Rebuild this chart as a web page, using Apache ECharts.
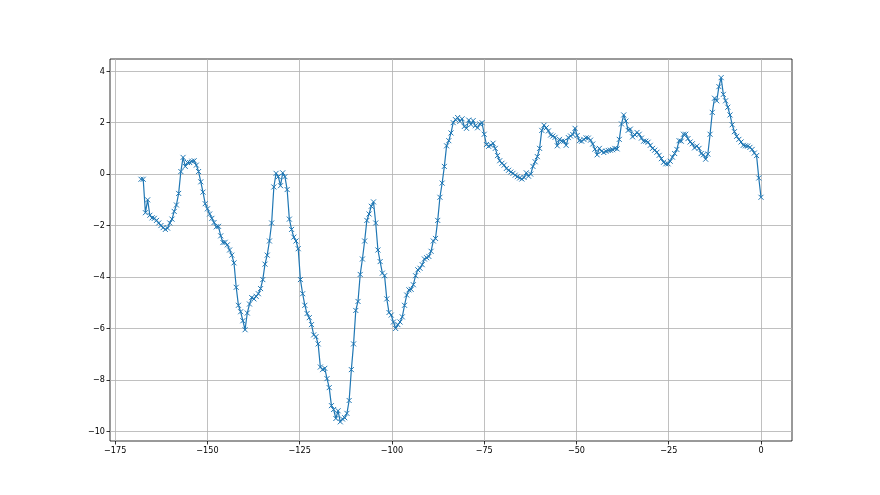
<!DOCTYPE html>
<html><head><meta charset="utf-8">
<script src="https://cdn.jsdelivr.net/npm/echarts@6/dist/echarts.min.js"></script>
<style>html,body{margin:0;padding:0;background:#fff}#c{width:880px;height:495px}</style>
</head><body><div id="c"></div>
<script>
const xStart = -168, xStep = 0.6;
const yValues = [
-0.2,-0.2,-1.5,-1.0,-1.6,-1.7,-1.72,-1.8,-1.9,-2.0,
-2.08,-2.15,-2.1,-1.9,-1.75,-1.45,-1.2,-0.75,0.1,0.65,
0.3,0.45,0.45,0.5,0.52,0.35,0.1,-0.3,-0.7,-1.15,
-1.35,-1.55,-1.72,-1.88,-2.05,-2.03,-2.4,-2.66,-2.65,-2.75,
-2.95,-3.15,-3.45,-4.4,-5.1,-5.35,-5.7,-6.05,-5.4,-5.05,
-4.8,-4.85,-4.75,-4.65,-4.45,-4.1,-3.5,-3.15,-2.6,-1.9,
-0.5,0.03,-0.1,-0.45,0.05,-0.1,-0.6,-1.75,-2.15,-2.45,
-2.6,-2.9,-4.1,-4.65,-5.1,-5.42,-5.58,-5.85,-6.25,-6.32,
-6.6,-7.5,-7.6,-7.55,-7.95,-8.3,-9.0,-9.15,-9.5,-9.2,
-9.63,-9.52,-9.47,-9.3,-8.8,-7.6,-6.6,-5.3,-4.95,-3.9,
-3.3,-2.6,-1.8,-1.55,-1.25,-1.08,-1.9,-2.95,-3.4,-3.85,
-3.95,-4.85,-5.38,-5.48,-5.75,-6.0,-5.85,-5.75,-5.55,-5.1,
-4.7,-4.5,-4.48,-4.3,-3.95,-3.72,-3.66,-3.52,-3.3,-3.25,
-3.2,-3.0,-2.6,-2.5,-1.8,-0.9,-0.35,0.3,1.1,1.3,
1.6,2.0,2.12,2.2,2.05,2.15,1.85,1.78,2.1,1.93,
2.08,1.88,1.8,1.95,2.0,1.55,1.15,1.08,1.12,1.2,
1.0,0.72,0.52,0.42,0.35,0.22,0.15,0.08,0.03,-0.04,
-0.1,-0.15,-0.19,-0.13,0.05,-0.08,0.0,0.3,0.48,0.68,
1.0,1.7,1.9,1.8,1.68,1.52,1.48,1.43,1.1,1.35,
1.28,1.28,1.12,1.42,1.48,1.54,1.78,1.5,1.3,1.28,
1.35,1.41,1.4,1.32,1.17,0.97,0.75,1.0,0.89,0.84,
0.89,0.92,0.93,0.95,1.0,0.98,1.35,1.95,2.3,2.06,
1.7,1.75,1.45,1.53,1.62,1.55,1.4,1.28,1.28,1.24,
1.12,1.0,0.93,0.85,0.73,0.6,0.46,0.4,0.4,0.5,
0.66,0.8,0.96,1.3,1.28,1.55,1.55,1.38,1.25,1.18,
1.02,1.09,1.0,0.8,0.75,0.58,0.78,1.55,2.4,2.95,
2.85,3.4,3.75,3.1,2.85,2.6,2.3,1.92,1.65,1.47,
1.35,1.25,1.12,1.1,1.09,1.04,0.96,0.82,0.72,-0.15,
-0.9
];
const xTicks = [-175,-150,-125,-100,-75,-50,-25,0];
const yTicks = [-10,-8,-6,-4,-2,0,2,4];

const data = yValues.map((v,i)=>[+(xStart + xStep*i).toFixed(1), v]);
const fmt = v => String(v).replace('-', '\u2212');
const labelFont = {fontFamily:'DejaVu Sans Condensed', fontSize:9, color:'#000'};

const chart = echarts.init(document.getElementById('c'), null, {renderer:'canvas'});
chart.setOption({
  animation:false,
  backgroundColor:'#fff',
  grid:{left:110, top:59, width:682, height:382, show:true, borderColor:'#000', borderWidth:0.8, backgroundColor:'transparent'},
  xAxis:{type:'value', min:-176.4, max:8.4, position:'bottom',
    axisLine:{show:false, onZero:false},
    axisTick:{show:true, length:3.5, lineStyle:{color:'#000', width:0.8}, customValues:xTicks},
    axisLabel:Object.assign({customValues:xTicks, formatter:fmt, margin:5}, labelFont),
    splitLine:{show:true, lineStyle:{color:'#b0b0b0', width:0.8}}
  },
  yAxis:{type:'value', min:-10.375, max:4.475, position:'left',
    axisLine:{show:false, onZero:false},
    axisTick:{show:true, length:3.5, lineStyle:{color:'#000', width:0.8}, customValues:yTicks},
    axisLabel:Object.assign({customValues:yTicks, formatter:fmt, margin:5}, labelFont),
    splitLine:{show:true, lineStyle:{color:'#b0b0b0', width:0.8}}
  },
  series:[{
    type:'line', data:data,
    lineStyle:{color:'#1f77b4', width:1.2},
    symbol:'path://M0,0L10,10M10,0L0,10', symbolSize:5,
    itemStyle:{color:'rgba(0,0,0,0)', borderColor:'#1f77b4', borderWidth:1},
    showAllSymbol:true
  }]
});
</script></body></html>
